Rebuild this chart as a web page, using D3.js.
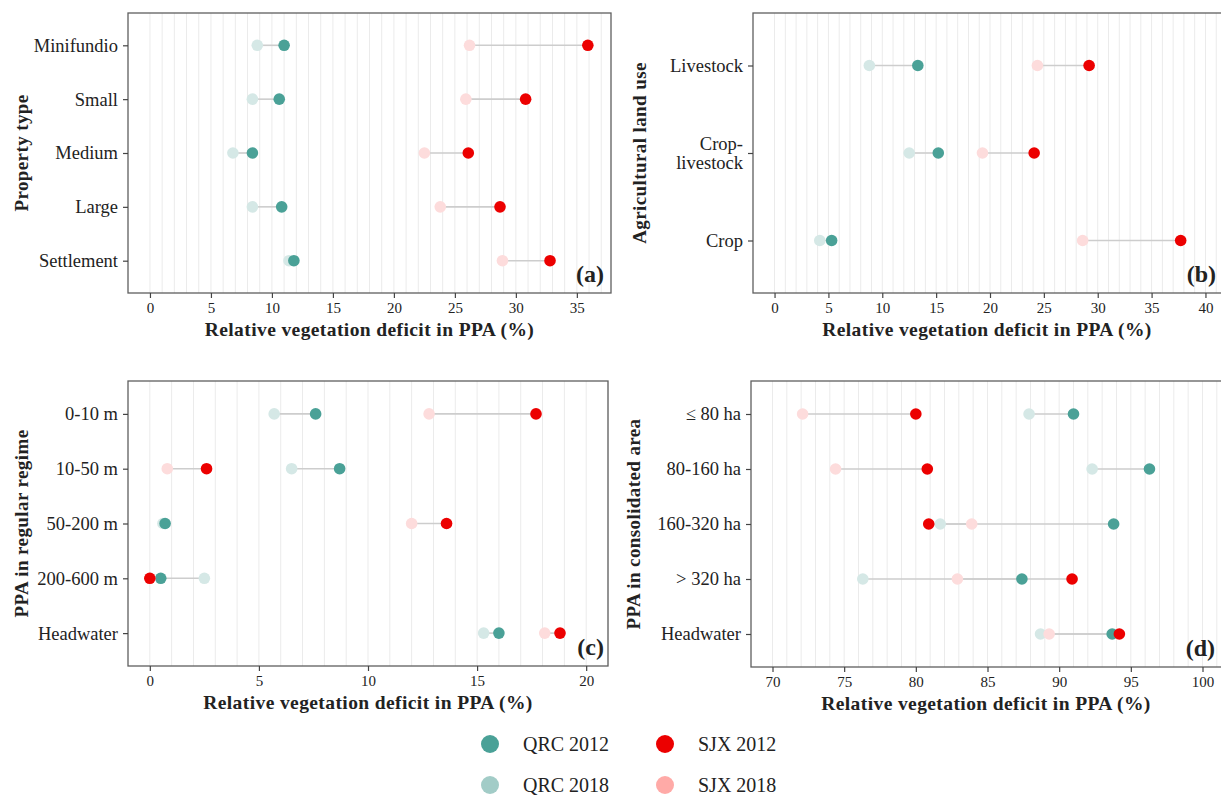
<!DOCTYPE html>
<html>
<head>
<meta charset="utf-8">
<script src="https://cdn.jsdelivr.net/npm/d3@7"></script>
<style>
    body { margin: 0; background: #fff; }
    svg text { font-family: "Liberation Serif", "DejaVu Serif", serif; fill: #222; }
</style>
</head>
<body>
<div id="chart"></div>
<script>
"use strict";

// (a) property type
const propertyTypes = ["Minifundio", "Small", "Medium", "Large", "Settlement"];
const propQrc2012 = [11.0, 10.6, 8.4, 10.8, 11.8];
const propQrc2018 = [8.8, 8.4, 6.8, 8.4, 11.4];
const propSjx2012 = [35.9, 30.8, 26.1, 28.7, 32.8];
const propSjx2018 = [26.2, 25.9, 22.5, 23.8, 28.9];

// (b) agricultural land use
const landUses = ["Livestock", "Crop-livestock", "Crop"];
const luQrc2012 = [13.3, 15.2, 5.3];
const luQrc2018 = [8.8, 12.5, 4.2];
const luSjx2012 = [29.2, 24.1, 37.7];
const luSjx2018 = [24.4, 19.3, 28.6];

// (c) PPA in regular regime
const regularClasses = ["0-10 m", "10-50 m", "50-200 m", "200-600 m", "Headwater"];
const rrQrc2012 = [7.6, 8.7, 0.7, 0.5, 16.0];
const rrQrc2018 = [5.7, 6.5, 0.6, 2.5, 15.3];
const rrSjx2012 = [17.7, 2.6, 13.6, 0.0, 18.8];
const rrSjx2018 = [12.8, 0.8, 12.0, 0.0, 18.1];

// (d) PPA in consolidated area
const consolidatedClasses = ["≤ 80 ha", "80-160 ha", "160-320 ha", "> 320 ha", "Headwater"];
const caQrc2012 = [91.0, 96.3, 93.8, 87.4, 93.7];
const caQrc2018 = [87.9, 92.3, 81.7, 76.3, 88.7];
const caSjx2012 = [80.0, 80.8, 80.9, 90.9, 94.2];
const caSjx2018 = [72.1, 74.4, 83.9, 82.9, 89.3];

const xTitle = "Relative vegetation deficit in PPA (%)";

const pointColor = {
    "QRC 2012": "#4aa197",
    "QRC 2018": "#d5e8e6",
    "SJX 2012": "#ec0000",
    "SJX 2018": "#fddcdc"
};
const legendColor = {
    "QRC 2012": "#4aa197",
    "QRC 2018": "#a2ccc7",
    "SJX 2012": "#ec0000",
    "SJX 2018": "#ffaaa7"
};

const panels = [
    { tag: "(a)", title: "Property type", cats: propertyTypes,
      vals: [propQrc2012, propQrc2018, propSjx2012, propSjx2018],
      domain: [-1.8, 37.8], ticks: d3.range(0, 36, 5), grid: [0, 37],
      box: { l: 128, t: 13, r: 611, b: 293 }, titleX: 21, tagX: 604 },
    { tag: "(b)", title: "Agricultural land use", cats: landUses,
      vals: [luQrc2012, luQrc2018, luSjx2012, luSjx2018],
      domain: [-2, 42], ticks: d3.range(0, 41, 5), grid: [0, 42],
      box: { l: 753, t: 13, r: 1227, b: 293 }, titleX: 639, tagX: 1216 },
    { tag: "(c)", title: "PPA in regular regime", cats: regularClasses,
      vals: [rrQrc2012, rrQrc2018, rrSjx2012, rrSjx2018],
      domain: [-1, 21], ticks: d3.range(0, 21, 5), grid: [0, 21],
      box: { l: 128, t: 381, r: 608, b: 666 }, titleX: 21, tagX: 604 },
    { tag: "(d)", title: "PPA in consolidated area", cats: consolidatedClasses,
      vals: [caQrc2012, caQrc2018, caSjx2012, caSjx2018],
      domain: [68.5, 101.5], ticks: d3.range(70, 101, 5), grid: [70, 101],
      box: { l: 751, t: 381, r: 1224, b: 667 }, titleX: 633, tagX: 1215 }
];

const width = 1221;
const height = 797;

const svg = d3.select("#chart").append("svg")
    .attr("width", width)
    .attr("height", height);

function drawPanel(p) {
    const g = svg.append("g");
    const box = p.box;

    const x = d3.scaleLinear().domain(p.domain).range([box.l, box.r]);
    const y = d3.scalePoint().domain(p.cats).range([box.t, box.b]).padding(0.6);

    // light vertical grid every unit
    g.append("g").selectAll("line")
        .data(d3.range(p.grid[0], p.grid[1] + 1))
        .enter().append("line")
        .attr("x1", d => x(d)).attr("x2", d => x(d))
        .attr("y1", box.t).attr("y2", box.b)
        .attr("stroke", "#ebebeb")
        .attr("stroke-width", 1);

    // one row per category
    const rows = p.cats.map((c, i) => ({
        cat: c,
        qrc12: p.vals[0][i], qrc18: p.vals[1][i],
        sjx12: p.vals[2][i], sjx18: p.vals[3][i]
    }));

    // connecting segments 2018 -> 2012
    const segs = [];
    rows.forEach(r => {
        segs.push({ cat: r.cat, a: r.qrc18, b: r.qrc12 });
        segs.push({ cat: r.cat, a: r.sjx18, b: r.sjx12 });
    });
    g.append("g").selectAll("line")
        .data(segs)
        .enter().append("line")
        .attr("x1", d => x(d.a)).attr("x2", d => x(d.b))
        .attr("y1", d => y(d.cat)).attr("y2", d => y(d.cat))
        .attr("stroke", "#cdcdcd")
        .attr("stroke-width", 1.6);

    // points, light ones underneath
    const order = [["QRC 2018", "qrc18"], ["QRC 2012", "qrc12"], ["SJX 2018", "sjx18"], ["SJX 2012", "sjx12"]];
    order.forEach(o => {
        g.append("g").selectAll("circle")
            .data(rows)
            .enter().append("circle")
            .attr("cx", d => x(d[o[1]]))
            .attr("cy", d => y(d.cat))
            .attr("r", 5.8)
            .attr("fill", pointColor[o[0]]);
    });

    // frame
    g.append("rect")
        .attr("x", box.l).attr("y", box.t)
        .attr("width", box.r - box.l).attr("height", box.b - box.t)
        .attr("fill", "none")
        .attr("stroke", "#5f5f5f")
        .attr("stroke-width", 1.3);

    // x axis
    const xAxis = g.append("g")
        .attr("transform", "translate(0," + box.b + ")")
        .call(d3.axisBottom(x).tickValues(p.ticks).tickSize(5).tickPadding(4).tickSizeOuter(0));
    xAxis.select(".domain").remove();
    xAxis.selectAll(".tick line").attr("stroke", "#444").attr("stroke-width", 1.2);
    xAxis.selectAll(".tick text").style("font-size", "15px").attr("fill", "#333");

    // y axis
    const yAxis = g.append("g")
        .attr("transform", "translate(" + box.l + ",0)")
        .call(d3.axisLeft(y).tickSize(5).tickPadding(5).tickSizeOuter(0));
    yAxis.select(".domain").remove();
    yAxis.selectAll(".tick line").attr("stroke", "#444").attr("stroke-width", 1.2);
    yAxis.selectAll(".tick text").style("font-size", "18.5px").attr("fill", "#222")
        .each(function (d) {
            if (d === "Crop-livestock") {
                const t = d3.select(this).text(null);
                t.append("tspan").attr("x", -10).attr("dy", "-0.2em").text("Crop-");
                t.append("tspan").attr("x", -10).attr("dy", "1.05em").text("livestock");
            }
        });

    // titles
    g.append("text")
        .attr("x", (box.l + box.r) / 2 - (box.r > width ? (box.r - width) / 2 : 0))
        .attr("y", box.b + 43)
        .attr("text-anchor", "middle")
        .style("font-size", "19.5px")
        .style("font-weight", "bold")
        .style("letter-spacing", "0.4px")
        .text(xTitle);

    g.append("text")
        .attr("transform", "translate(" + p.titleX + "," + ((box.t + box.b) / 2) + ") rotate(-90)")
        .attr("text-anchor", "middle")
        .attr("dy", "0.35em")
        .style("font-size", "19px")
        .style("font-weight", "bold")
        .style("letter-spacing", "0.4px")
        .text(p.title);

    g.append("text")
        .attr("x", p.tagX)
        .attr("y", box.b - 11)
        .attr("text-anchor", "end")
        .style("font-size", "24px")
        .style("font-weight", "bold")
        .text(p.tag);
}

panels.forEach(drawPanel);

// legend, two columns
const legendCols = [["QRC 2012", "QRC 2018"], ["SJX 2012", "SJX 2018"]];
const legend = svg.append("g");
legendCols.forEach((col, ci) => {
    col.forEach((name, ri) => {
        const lx = 490 + ci * 175;
        const ly = 744 + ri * 41;
        legend.append("circle")
            .attr("cx", lx).attr("cy", ly).attr("r", 9)
            .attr("fill", legendColor[name]);
        legend.append("text")
            .attr("x", lx + 33).attr("y", ly)
            .attr("dy", "0.35em")
            .style("font-size", "20px")
            .text(name);
    });
});
</script>
</body>
</html>
